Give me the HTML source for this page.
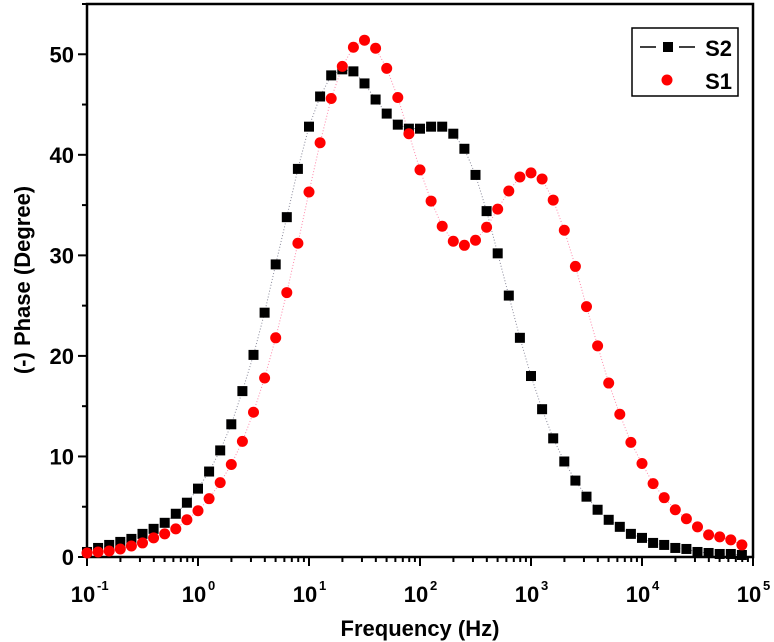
<!DOCTYPE html>
<html><head><meta charset="utf-8"><style>
html,body{margin:0;padding:0;background:#fff;}
svg{display:block;font-family:"Liberation Sans",Arial,sans-serif;font-weight:bold;}
</style></head><body>
<svg id="chart" width="774" height="642" viewBox="0 0 774 642">
<g id="axes"></g><g id="series"></g>
<g>
<rect x="632" y="28" width="106" height="68" fill="#fff" stroke="#000" stroke-width="1.5"/>
<line x1="640" y1="47" x2="656" y2="47" stroke="#000" stroke-width="1.5"/>
<line x1="679" y1="47" x2="695" y2="47" stroke="#000" stroke-width="1.5"/>
<rect x="663" y="42" width="10" height="10" fill="#000"/>
<text x="732" y="56" font-size="22" text-anchor="end">S2</text>
<circle cx="667" cy="80" r="5.5" fill="#f00"/>
<text x="732" y="89" font-size="22" text-anchor="end">S1</text>
</g>
<text x="420" y="636" font-size="22" text-anchor="middle">Frequency (Hz)</text>
<text transform="translate(30,280) rotate(-90)" font-size="22" text-anchor="middle">(-) Phase (Degree)</text>
</svg>
<script>
const logFreqStart = -1;
const pointsPerDecade = 10;
const s2Values = [0.5,0.9,1.2,1.5,1.8,2.3,2.8,3.4,4.3,5.4,6.8,8.5,10.6,13.2,16.5,20.1,24.3,29.1,33.8,38.6,42.8,45.8,47.9,48.5,48.3,47.1,45.5,44.1,43.0,42.6,42.6,42.8,42.8,42.1,40.6,38.0,34.4,30.2,26.0,21.8,18.0,14.7,11.8,9.5,7.6,6.0,4.7,3.7,3.0,2.3,1.9,1.4,1.2,0.9,0.8,0.5,0.4,0.3,0.3,0.2];
const s1Values = [0.4,0.5,0.6,0.8,1.1,1.4,1.9,2.3,2.8,3.7,4.6,5.8,7.4,9.2,11.5,14.4,17.8,21.8,26.3,31.2,36.3,41.2,45.6,48.8,50.7,51.4,50.6,48.6,45.7,42.1,38.5,35.4,32.9,31.4,31.0,31.5,32.8,34.6,36.4,37.8,38.2,37.6,35.5,32.5,28.9,24.9,21.0,17.3,14.2,11.4,9.3,7.3,5.9,4.7,3.8,3.0,2.2,2.0,1.7,1.2];
const yTicks = [0,10,20,30,40,50];
const xDecades = [-1,0,1,2,3,4,5];

const NS='http://www.w3.org/2000/svg';
const L=87,R=753,T=4,B=557,ymin=0,ymax=55,xmin=-1,xmax=5;
const xs=v=>L+(v-xmin)/(xmax-xmin)*(R-L);
const ys=v=>B-(v-ymin)/(ymax-ymin)*(B-T);
function mk(tag,attrs,parent){const e=document.createElementNS(NS,tag);for(const k in attrs)e.setAttribute(k,attrs[k]);parent.appendChild(e);return e;}
const axes=document.getElementById('axes');
const frame=mk('rect',{x:L,y:T,width:R-L,height:B-T,fill:'none',stroke:'#000','stroke-width':2.5},axes);


for(let v=0;v<=55;v+=5){
  const major=v%10===0;
  mk('line',{x1:L,x2:L-(major?9:5),y1:ys(v),y2:ys(v),stroke:'#000','stroke-width':2},axes);
}
yTicks.forEach(v=>{
  const t=mk('text',{x:L-13,y:ys(v)+8,'font-size':22,'text-anchor':'end'},axes);
  t.textContent=v;
  
  
});
for(let d=xmin;d<xmax;d++){
  for(let m=1;m<10;m++){
    const x=xs(d+Math.log10(m));
    mk('line',{x1:x,x2:x,y1:B,y2:B+(m===1?9:5),stroke:'#000','stroke-width':2},axes);
  }
}
mk('line',{x1:R,x2:R,y1:B,y2:B+9,stroke:'#000','stroke-width':2},axes);
xDecades.forEach(d=>{
  const t=mk('text',{x:xs(d)-4,y:B+45,'font-size':22,'text-anchor':'middle'},axes);
  t.textContent='10';
  
  
  const s=mk('text',{x:xs(d)+10,y:B+33,'font-size':13},axes);
  s.textContent=String(d);
});
const ser=document.getElementById('series');
function xAt(i){return xs(logFreqStart+i/pointsPerDecade);}
function line(vals,color){
  const p=mk('polyline',{points:vals.map((v,i)=>xAt(i)+','+ys(v)).join(' '),fill:'none',stroke:color,'stroke-width':1,'stroke-dasharray':'1 2'},ser);
  return p;
}
const l2=line(s2Values,'#889');


const l1=line(s1Values,'#f8a');


s2Values.forEach((v,i)=>{
  const r=mk('rect',{x:xAt(i)-5,y:ys(v)-5,width:10,height:10,fill:'#000'},ser);
  
  
});
s1Values.forEach((v,i)=>{
  const c=mk('circle',{cx:xAt(i),cy:ys(v),r:5.5,fill:'#f00'},ser);
  
  
});
</script>
</body></html>
